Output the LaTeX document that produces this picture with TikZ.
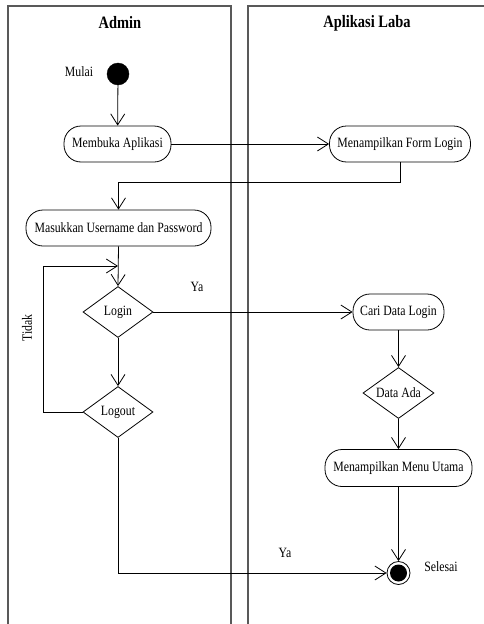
\documentclass[tikz,border=0pt]{standalone}
\usepackage{fontspec}
\setmainfont{Liberation Serif}[FakeStretch=0.83]
\usetikzlibrary{shapes.geometric,arrows.meta}
\begin{document}
\begin{tikzpicture}[x=1pt,y=-1pt,
  lane/.style={draw=black!65,line width=1.3pt},
  act/.style={draw,line width=0.8pt,rectangle,rounded corners=17pt,minimum height=36pt,inner sep=0pt,font=\fontsize{14.2}{16}\selectfont},
  dec/.style={draw,line width=0.8pt,diamond,minimum width=70pt,minimum height=51pt,inner sep=0pt,shape aspect=1.37,font=\fontsize{14.2}{16}\selectfont},
  lbl/.style={inner sep=0pt,font=\fontsize{14.2}{16}\selectfont},
  hdr/.style={inner sep=0pt,font=\fontsize{17.4}{19}\selectfont\bfseries},
  flow/.style={line width=0.8pt,-{Straight Barb[length=11pt,width=14pt,line width=0.8pt]}},
  plain/.style={line width=0.8pt}]
\useasboundingbox (0,0) rectangle (484,624);
% swimlanes
\draw[lane] (8,6) rectangle (231,640);
\draw[lane] (248,6) rectangle (495,640);
\node[hdr] (hA) at (120,23) {Admin};
\node[hdr] (hB) at (367,23) {Aplikasi Laba};
% nodes
\node[circle,fill=black,draw,minimum size=22pt,inner sep=0pt] (start) at (118,74) {};
\node[lbl] (mulai) at (79,72) {Mulai};
\node[act,minimum width=107pt] (a1) at (117.5,144) {Membuka Aplikasi};
\node[act,minimum width=141pt] (a2) at (400,144) {Menampilkan Form Login};
\node[act,minimum width=185pt] (a3) at (118.5,228) {Masukkan Username dan Password};
\node[dec] (d1) at (118,312) {Login};
\node[dec] (d2) at (118,412) {Logout};
\node[act,minimum width=91pt] (a4) at (398.5,312) {Cari Data Login};
\node[dec,minimum width=71pt] (d3) at (398.5,393) {Data Ada};
\node[act,minimum width=147pt,minimum height=37pt] (a5) at (398.5,468) {Menampilkan Menu Utama};
\node[circle,draw,line width=0.8pt,minimum size=23pt,inner sep=0pt] (end) at (398.5,573) {};
\node[circle,fill=black,minimum size=17pt,inner sep=0pt] (endin) at (end.center) {};
% labels
\node[lbl] (ya1) at (197,287) {Ya};
\node[lbl,rotate=90] (tidak) at (27,328) {Tidak};
\node[lbl] (ya2) at (285,553) {Ya};
\node[lbl] (selesai) at (441,567) {Selesai};
% connectors
\coordinate (lp) at (43,266);
\coordinate (lj) at (118,266);
\draw[flow] (start) -- (a1);
\draw[flow] (a1) -- (a2);
\draw[flow] (a2.south) -- ++(0,20) -| (a3.north);
\draw[flow] (a3.south) -- (d1.north);
\draw[flow] (d2.west) -| (lp) -- (lj);
\draw[flow] (d1.east) -- (a4.west);
\draw[flow] (d1.south) -- (d2.north);
\draw[flow] (d2.south) |- (end.west);
\draw[flow] (a4) -- (d3);
\draw[flow] (d3) -- (a5);
\draw[flow] (a5) -- (end);
\end{tikzpicture}
\end{document}
